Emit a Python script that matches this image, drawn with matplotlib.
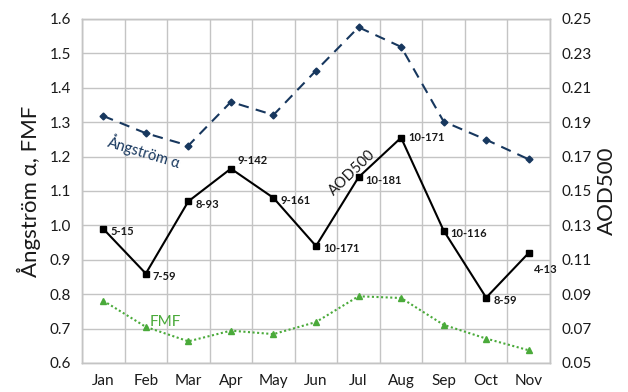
import matplotlib
matplotlib.use("Agg")
import matplotlib.pyplot as plt

months = ["Jan", "Feb", "Mar", "Apr", "May", "Jun", "Jul", "Aug", "Sep", "Oct", "Nov"]
angstrom = [1.318, 1.268, 1.232, 1.359, 1.321, 1.450, 1.576, 1.519, 1.302, 1.249, 1.192]
fmf = [0.781, 0.705, 0.663, 0.694, 0.684, 0.719, 0.794, 0.789, 0.711, 0.671, 0.637]
aod500 = [0.128, 0.102, 0.144, 0.163, 0.146, 0.118, 0.158, 0.181, 0.127, 0.088, 0.114]
aod_labels = ["5-15", "7-59", "8-93", "9-142", "9-161", "10-171",
              "10-181", "10-171", "10-116", "8-59", "4-13"]
left_ticks = [0.6, 0.7, 0.8, 0.9, 1.0, 1.1, 1.2, 1.3, 1.4, 1.5, 1.6]
right_ticks = [0.05, 0.07, 0.09, 0.11, 0.13, 0.15, 0.17, 0.19, 0.21, 0.23, 0.25]

plt.rcParams["font.family"] = ["Lato", "DejaVu Sans"]

fig = plt.figure(figsize=(6.28, 3.92), dpi=100)
ax = fig.add_axes([82 / 628, 1 - 363 / 392, 468 / 628, 344 / 392])
ax2 = ax.twinx()

x = list(range(len(months)))

ax.set_xlim(-0.5, len(months) - 0.5)
ax.set_ylim(0.6, 1.6)
ax2.set_ylim(0.05, 0.25)
ax.set_yticks(left_ticks)
ax.set_yticklabels([f"{v:.1f}" for v in left_ticks])
ax2.set_yticks(right_ticks)
ax2.set_yticklabels([f"{v:.2f}" for v in right_ticks])
ax.set_xticks(x)
ax.set_xticklabels(months)
ax.set_xticks([i + 0.5 for i in range(-1, len(months))], minor=True)

grid_col = "#c4c4c4"
ax.grid(True, which="minor", axis="x", color=grid_col, lw=1.0)
ax.grid(True, which="major", axis="y", color=grid_col, lw=1.0)
ax.set_axisbelow(True)
for a in (ax, ax2):
    for s in a.spines.values():
        s.set_color(grid_col)
        s.set_linewidth(1.0)
    a.tick_params(which="both", length=0, labelsize=11, colors="#1a1a1a")
ax.tick_params(axis="x", pad=8)
ax.tick_params(axis="y", pad=8)
ax2.tick_params(axis="y", pad=8)

ax.plot(x, angstrom, color="#17375e", lw=1.5, ls=(0, (5, 3.5)),
        marker="D", ms=3.5, zorder=3)
ax.plot(x, fmf, color="#4aaa3a", lw=1.5, ls=(0, (1, 1.2)),
        marker="^", ms=5, zorder=3)
ax2.plot(x, aod500, color="black", lw=1.5, marker="s", ms=4, zorder=3)

offsets = {3: (5, 6), 10: (4, -12), 7: (5, 0)}
for i, (v, t) in enumerate(zip(aod500, aod_labels)):
    dx, dy = offsets.get(i, (5, -2))
    ax2.annotate(t, (i, v), xytext=(dx, dy), textcoords="offset points",
                 fontsize=8, fontweight="bold", color="#1a1a1a",
                 va="center", ha="left")

ax.text(0.95, 1.216, "Ångström α", rotation=-17, color="#17375e",
        fontsize=10.5, ha="center", va="center")
ax2.text(5.85, 0.1605, "AOD500", rotation=44, color="#1a1a1a",
         fontsize=10.5, ha="center", va="center")
ax.text(1.45, 0.72, "FMF", color="#4aaa3a", fontsize=11,
        ha="center", va="center")

ax.set_ylabel("Ångström α, FMF", fontsize=16, labelpad=6, color="#1a1a1a")
ax2.set_ylabel("AOD500", fontsize=16, labelpad=4, color="#1a1a1a")

fig.savefig("out.png", dpi=100)
